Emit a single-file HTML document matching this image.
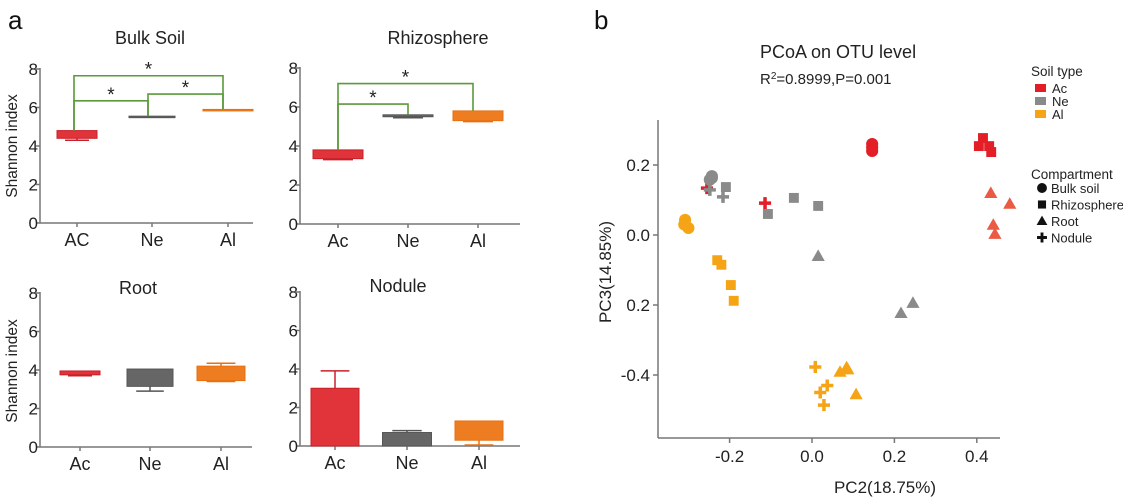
<!DOCTYPE html>
<html><head><meta charset="utf-8"><style>
html,body{margin:0;padding:0;background:#fff;width:1123px;height:500px;overflow:hidden}
svg{font-family:"Liberation Sans",Arial,sans-serif;display:block}
</style></head><body>
<svg id="fig" width="1123" height="500" viewBox="0 0 1123 500">
<text x="8" y="29" font-size="26" fill="#111">a</text>
<text x="594" y="29" font-size="26" fill="#111">b</text>
</svg>
<script>
const NS="http://www.w3.org/2000/svg";
const svg=document.getElementById('fig');
function mk(tag,attrs,parent){const e=document.createElementNS(NS,tag);for(const k in attrs)e.setAttribute(k,attrs[k]);(parent||svg).appendChild(e);return e;}
function txt(s,attrs,parent){const e=mk('text',attrs,parent);e.textContent=s;return e;}

// ---- Panel a data ----
const categories=[["AC","Ne","Al"],["Ac","Ne","Al"],["Ac","Ne","Al"],["Ac","Ne","Al"]];
const panelTitles=["Bulk Soil","Rhizosphere","Root","Nodule"];
const yTicks=[0,2,4,6,8];
const boxLow=[[4.4,5.55,5.85],[3.35,5.5,5.3],[3.75,3.15,3.45],[0,0,0.3]];
const boxHigh=[[4.8,5.55,5.9],[3.8,5.6,5.8],[3.95,4.05,4.2],[3.0,0.7,1.3]];
const whiskLow=[[4.3,5.55,5.85],[3.3,5.45,5.25],[3.7,2.9,3.4],[0,0,0.05]];
const whiskHigh=[[4.8,5.55,5.9],[3.8,5.6,5.8],[3.95,4.05,4.35],[3.9,0.8,1.3]];
const colors=["#e0333a","#666666","#ee7d22"];
const edgeColors=["#c8202a","#555555","#e87010"];

const panels=[
 {x0:40,x1:253,y0:223,y8:69,cx:[77,152,228],bw:[40,46,50],tx:150,ty:44},
 {x0:300,x1:520,y0:224,y8:68,cx:[338,408,478],bw:[50,50,50],tx:438,ty:44},
 {x0:40,x1:252,y0:447,y8:293,cx:[80,150,221],bw:[40,46,48],tx:138,ty:294},
 {x0:300,x1:520,y0:446,y8:292,cx:[335,407,479],bw:[48,49,48],tx:398,ty:292}
];
panels.forEach((p,i)=>{
 const g=mk('g',{});
 
 
 const ys=v=>p.y0+(p.y8-p.y0)*v/8;
 const t=txt(panelTitles[i],{x:p.tx,y:p.ty,'font-size':18,'text-anchor':'middle',fill:'#222'},g);
 
 
 mk('line',{x1:p.x0,y1:p.y8-1,x2:p.x0,y2:p.y0,stroke:'#777','stroke-width':1.5},g);
 mk('line',{x1:p.x0,y1:p.y0,x2:p.x1,y2:p.y0,stroke:'#777','stroke-width':1.5},g);
 yTicks.forEach(v=>{
  mk('line',{x1:p.x0-4,y1:ys(v),x2:p.x0,y2:ys(v),stroke:'#777','stroke-width':1.5},g);
  const tl=txt(String(v),{x:p.x0-2,y:ys(v)+6,'font-size':17,'text-anchor':'end',fill:'#222'},g);
  
  
 });
 categories[i].forEach((c,j)=>{
  const cx=p.cx[j],w=p.bw[j];
  mk('line',{x1:cx,y1:p.y0,x2:cx,y2:p.y0+4,stroke:'#777','stroke-width':1.5},g);
  const cl=txt(c,{x:cx,y:p.y0+23,'font-size':18,'text-anchor':'middle',fill:'#222'},g);
  
  
  const ec=edgeColors[j];
  if(whiskHigh[i][j]>boxHigh[i][j]){
   mk('line',{x1:cx,y1:ys(boxHigh[i][j]),x2:cx,y2:ys(whiskHigh[i][j]),stroke:ec,'stroke-width':1.5},g);
   mk('line',{x1:cx-w*0.3,y1:ys(whiskHigh[i][j]),x2:cx+w*0.3,y2:ys(whiskHigh[i][j]),stroke:ec,'stroke-width':1.5},g);
  }
  if(whiskLow[i][j]<boxLow[i][j]){
   mk('line',{x1:cx,y1:ys(boxLow[i][j]),x2:cx,y2:ys(whiskLow[i][j]),stroke:ec,'stroke-width':1.5},g);
   mk('line',{x1:cx-w*0.3,y1:ys(whiskLow[i][j]),x2:cx+w*0.3,y2:ys(whiskLow[i][j]),stroke:ec,'stroke-width':1.5},g);
  }
  const h=Math.max(1.5,ys(boxLow[i][j])-ys(boxHigh[i][j]));
  const r=mk('rect',{x:cx-w/2,y:ys(boxHigh[i][j]),width:w,height:h,fill:colors[j],stroke:ec,'stroke-width':1},g);
  
  
 });
});
[[17,146],[17,371]].forEach(([x,y])=>{
 const t=txt('Shannon index',{x:x,y:y,'font-size':15.5,'text-anchor':'middle',fill:'#222',transform:`rotate(-90 ${x} ${y})`});
 
 
});
const sigPairs=[[0,0,2,7.65],[0,0,1,6.35],[0,1,2,6.7],[1,0,1,6.15],[1,0,2,7.2]];
sigPairs.forEach(([pi,a,b,lv])=>{
 const p=panels[pi];const ys=v=>p.y0+(p.y8-p.y0)*v/8;
 const xa=p.cx[a]-(pi===0&&a===0?3:0)+(pi===0&&a===1?-4:0), xb=p.cx[b]-(b===2?5:0)+(pi===0&&b===1?-4:0);
 const ya=ys(boxHigh[pi][a]), yb=ys(boxHigh[pi][b]), yl=ys(lv);
 const pl=mk('polyline',{points:`${xa},${ya} ${xa},${yl} ${xb},${yl} ${xb},${yb}`,fill:'none',stroke:'#5a9a3a','stroke-width':1.6});
 
 
 const s=txt('*',{x:(xa+xb)/2,y:yl,'font-size':19,'text-anchor':'middle',fill:'#222'});
 
 
});

// ---- Panel b: PCoA ----
const soilTypes=["Ac","Ne","Al"];
const compartments=["Bulk soil","Rhizosphere","Root","Nodule"];
const ptSoil=[0,0,0, 0,0,0,0, 0,0,0,0, 0,0, 1,1,1, 1,1,1,1, 1,1,1, 1,1, 2,2,2, 2,2,2,2, 2,2,2,2, 2,2,2,2];
const ptComp=[0,0,0, 1,1,1,1, 2,2,2,2, 3,3, 0,0,0, 1,1,1,1, 2,2,2, 3,3, 0,0,0, 1,1,1,1, 2,2,2,2, 3,3,3,3];
const pc2=[0.146,0.146,0.146, 0.415,0.405,0.43,0.435, 0.434,0.48,0.44,0.444, -0.255,-0.114,
 -0.243,-0.243,-0.248, -0.209,-0.107,-0.044,0.015, 0.015,0.216,0.245, -0.216,-0.248,
 -0.308,-0.3,-0.31, -0.23,-0.22,-0.197,-0.19, 0.068,0.084,0.087,0.107, 0.008,0.037,0.02,0.029];
const pc3=[0.26,0.25,0.24, 0.277,0.254,0.254,0.237, 0.12,0.089,0.029,0.003, 0.134,0.091,
 0.163,0.168,0.158, 0.137,0.06,0.106,0.083, -0.06,-0.223,-0.194, 0.109,0.129,
 0.043,0.02,0.03, -0.072,-0.085,-0.143,-0.188, -0.391,-0.378,-0.384,-0.455, -0.377,-0.43,-0.45,-0.486];
const xTicksB=[-0.2,0.0,0.2,0.4];
const yTicksB=[0.2,0.0,-0.2,-0.4];
const yTickText=["0.2","0.0","0.2","-0.4"];
const ptColors=["#e31e26","#8a8a8a","#f5a415"];
const rootAcColor="#ea5a45";
const X=v=>812+v*412, Y=v=>235-v*350;
const gb=mk('g',{});


mk('line',{x1:658,y1:120,x2:658,y2:438,stroke:'#777','stroke-width':1.5},gb);
mk('line',{x1:658,y1:438,x2:1000,y2:438,stroke:'#777','stroke-width':1.5},gb);
xTicksB.forEach(v=>{
 mk('line',{x1:X(v),y1:438,x2:X(v),y2:443,stroke:'#777','stroke-width':1.5},gb);
 const t=txt(v.toFixed(1),{x:X(v),y:462,'font-size':17,'text-anchor':'middle',fill:'#222'},gb);
 
 
});
yTicksB.forEach((v,i)=>{
 mk('line',{x1:653,y1:Y(v),x2:658,y2:Y(v),stroke:'#777','stroke-width':1.5},gb);
 const t=txt(yTickText[i],{x:650,y:Y(v)+6,'font-size':17,'text-anchor':'end',fill:'#222'},gb);
 
 
});
function marker(comp,x,y,col,size,parent){
 const s=size;
 if(comp===0) return mk('circle',{cx:x,cy:y,r:s*0.55,fill:col},parent);
 if(comp===1) return mk('rect',{x:x-s*0.45,y:y-s*0.45,width:s*0.9,height:s*0.9,fill:col},parent);
 if(comp===2) return mk('polygon',{points:`${x},${y-s*0.6} ${x+s*0.6},${y+s*0.45} ${x-s*0.6},${y+s*0.45}`,fill:col},parent);
 return mk('path',{d:`M${x-s*0.55},${y}H${x+s*0.55}M${x},${y-s*0.55}V${y+s*0.55}`,stroke:col,'stroke-width':s*0.32,fill:'none'},parent);
}
pc2.forEach((v,i)=>{
 let col=ptColors[ptSoil[i]];
 if(ptSoil[i]===0&&ptComp[i]===2) col=rootAcColor;
 const m=marker(ptComp[i],X(v),Y(pc3[i]),col,11,gb);
 
 
});
const xl=txt('PC2(18.75%)',{x:885,y:493,'font-size':17,'text-anchor':'middle',fill:'#222'});


const yl=txt('PC3(14.85%)',{x:611,y:272,'font-size':17,'text-anchor':'middle',fill:'#222',transform:'rotate(-90 611 272)'});


const ti=txt('PCoA on OTU level',{x:760,y:58,'font-size':18,fill:'#222'});


const st=mk('text',{x:760,y:84,'font-size':15,fill:'#222'});
st.innerHTML='R<tspan dy="-5" font-size="10">2</tspan><tspan dy="5">=0.8999,P=0.001</tspan>';


const lg=mk('g',{});


txt('Soil type',{x:1031,y:76,'font-size':13.5,fill:'#222'},lg);
soilTypes.forEach((s,i)=>{
 const y=88+i*13;
 const r=mk('rect',{x:1035,y:y-4,width:11,height:8,fill:ptColors[i]},lg);
 
 
 txt(s,{x:1052,y:y+5,'font-size':13,fill:'#222'},lg);
});
txt('Compartment',{x:1031,y:179,'font-size':13.5,fill:'#222'},lg);
compartments.forEach((c,i)=>{
 const y=188+i*16.5;
 const m=marker(i,1042,y,'#111',9,lg);
 
 
 txt(c,{x:1051,y:y+5,'font-size':13,fill:'#222'},lg);
});
</script>
</body></html>
